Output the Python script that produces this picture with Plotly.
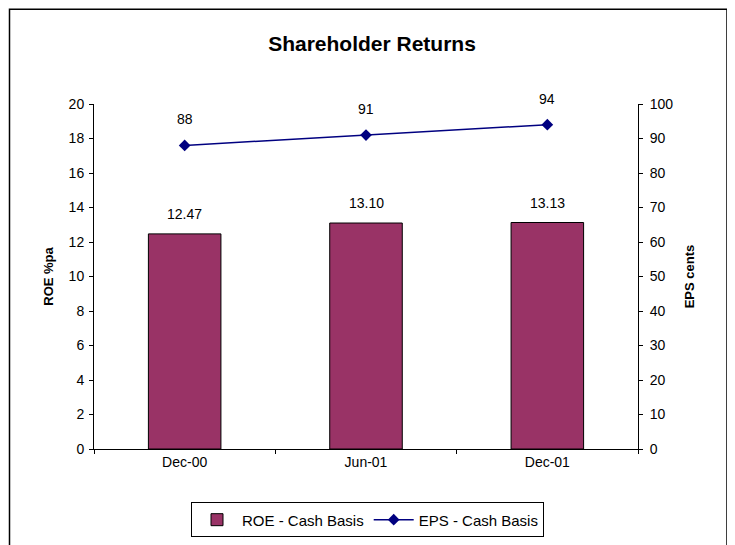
import plotly.graph_objects as go

categories = ["Dec-00", "Jun-01", "Dec-01"]
roe_values = [12.47, 13.10, 13.13]
eps_values = [88, 91, 94]
roe_name = "ROE - Cash Basis"
eps_name = "EPS - Cash Basis"
title_text = "Shareholder Returns"
left_title = "ROE %pa"
right_title = "EPS cents"

FONT = "Arial, Liberation Sans, sans-serif"
OFF = 8  # page body margin
W, H = 735 - OFF, 545 - OFF
# plot area in window pixels, converted to figure pixels
L, R, T, B = 94 - OFF, 638 - OFF, 104 - OFF, 449.5 - OFF

fig = go.Figure()
fig.add_trace(go.Bar(
    x=categories, y=roe_values, name=roe_name, width=0.4,
    marker=dict(color="#993366", line=dict(color="#000000", width=1)),
    yaxis="y", hoverinfo="skip",
))
fig.add_trace(go.Scatter(
    x=categories, y=eps_values, name=eps_name, mode="lines+markers",
    line=dict(color="#000080", width=1.5),
    marker=dict(symbol="diamond", size=9, color="#000080"),
    yaxis="y2", hoverinfo="skip",
))

annotations = []
for c, v in zip(categories, roe_values):
    annotations.append(dict(x=c, y=v, xref="x", yref="y", text=f"{v:.2f}",
                            showarrow=False, yshift=20,
                            font=dict(family=FONT, size=14, color="#000")))
for c, v in zip(categories, eps_values):
    annotations.append(dict(x=c, y=v, xref="x", yref="y2", text=f"{v:.0f}",
                            showarrow=False, yshift=26,
                            font=dict(family=FONT, size=14, color="#000")))

pw = R - L
ph = B - T
def px_x(x):
    return (x - OFF - L) / pw
def px_y(y):
    return (B - (y - OFF)) / ph

axis_common = dict(showgrid=False, zeroline=False, linecolor="#000", linewidth=1,
                   tickcolor="#000", ticklen=4, tickwidth=1,
                   tickfont=dict(family=FONT, size=14, color="#000"))

fig.update_layout(
    width=W, height=H,
    margin=dict(l=L, r=W - R, t=T, b=H - B, autoexpand=False),
    paper_bgcolor="#ffffff", plot_bgcolor="#ffffff",
    title=dict(text=f"<b>{title_text}</b>", x=px_x(372), xref="paper", xanchor="center",
               y=1 - (44 - OFF) / H, yanchor="middle",
               font=dict(family=FONT, size=21, color="#000")),
    xaxis=dict(type="category", categoryorder="array", categoryarray=categories,
               range=[-0.5, 2.5], ticks="outside", tickson="boundaries",
               showline=True, **axis_common),
    xaxis2=dict(overlaying="x", anchor="y", range=[-0.5, 2.5], tickvals=[0.5, 1.5],
                ticks="inside", showticklabels=False, showline=False,
                showgrid=False, zeroline=False, tickcolor="#000", ticklen=4, side="bottom"),
    yaxis=dict(range=[0, 20], dtick=2, tick0=0, ticks="outside", showline=True,
               title=dict(text=f"<b>{left_title}</b>", standoff=12,
                          font=dict(family=FONT, size=13, color="#000")),
               ticklabelstandoff=2, **axis_common),
    yaxis2=dict(range=[0, 100], dtick=10, tick0=0, ticks="outside", showline=True,
                overlaying="y", side="right", anchor="x",
                title=dict(text=f"<b>{right_title}</b>", standoff=12,
                           font=dict(family=FONT, size=13, color="#000")),
                ticklabelstandoff=4, **axis_common),
    yaxis3=dict(overlaying="y", side="left", anchor="x", range=[0, 20], dtick=2,
                ticks="inside", showticklabels=False, showline=False, showgrid=False,
                zeroline=False, tickcolor="#000", ticklen=4),
    yaxis4=dict(overlaying="y", side="right", anchor="x", range=[0, 100], dtick=10,
                ticks="inside", showticklabels=False, showline=False, showgrid=False,
                zeroline=False, tickcolor="#000", ticklen=4),
    showlegend=True,
    legend=dict(orientation="h", x=px_x(367.5), xanchor="center", y=px_y(503), yanchor="top",
                bordercolor="#000", borderwidth=1, bgcolor="#fff",
                font=dict(family=FONT, size=15, color="#000"),
                itemwidth=40, tracegroupgap=0),
    annotations=annotations,
    shapes=[dict(type="rect", xref="paper", yref="paper",
                 x0=px_x(9.5), x1=px_x(727), y0=px_y(560), y1=px_y(OFF + 1),
                 line=dict(color="#000", width=1.5), fillcolor="rgba(0,0,0,0)",
                 layer="above")],
)

fig.write_html("out.html")
